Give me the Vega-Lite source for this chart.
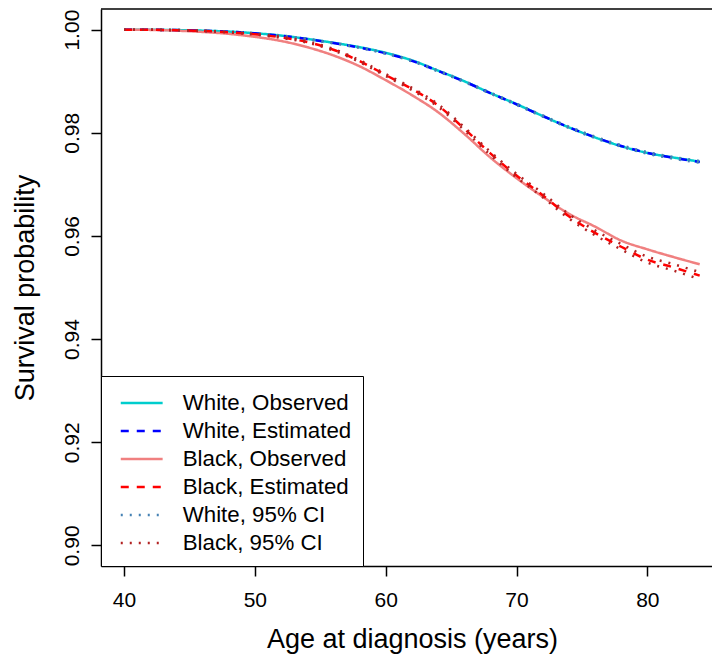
{
  "$schema": "https://vega.github.io/schema/vega-lite/v6.json",
  "width": 611,
  "height": 557,
  "autosize": {"type": "none"},
  "padding": {"left": 101, "top": 9, "right": 0, "bottom": 90},
  "background": "white",
  "config": {
    "view": {"stroke": null},
    "font": "Liberation Sans",
    "axis": {
      "grid": false,
      "domainColor": "black",
      "domainWidth": 1.5,
      "tickColor": "black",
      "tickWidth": 1.5,
      "tickSize": 10,
      "labelColor": "black",
      "labelFontSize": 21,
      "labelFont": "Liberation Sans",
      "titleColor": "black",
      "titleFontSize": 27,
      "titleFontWeight": "normal",
      "titleFont": "Liberation Sans"
    },
    "legend": {
      "orient": "bottom-left",
      "offset": 0,
      "padding": 11,
      "symbolOffset": 13.7,
      "strokeColor": "black",
      "fillColor": "white",
      "symbolType": "M-1.42,0H1.42",
      "symbolSize": 870,
      "symbolStrokeWidth": 2.5,
      "labelFontSize": 22.3,
      "labelFont": "Liberation Sans",
      "labelColor": "black",
      "labelOffset": 25,
      "labelLimit": 400,
      "rowPadding": 0
    }
  },
  "layer": [
    {
      "data": {
        "values": [
          {"age": 40, "surv": 1.00000, "series": "White, Observed", "line": "WO"},
          {"age": 42, "surv": 0.99998, "series": "White, Observed", "line": "WO"},
          {"age": 44, "surv": 0.99992, "series": "White, Observed", "line": "WO"},
          {"age": 46, "surv": 0.99980, "series": "White, Observed", "line": "WO"},
          {"age": 48, "surv": 0.99962, "series": "White, Observed", "line": "WO"},
          {"age": 50, "surv": 0.99930, "series": "White, Observed", "line": "WO"},
          {"age": 52, "surv": 0.99885, "series": "White, Observed", "line": "WO"},
          {"age": 54, "surv": 0.99820, "series": "White, Observed", "line": "WO"},
          {"age": 56, "surv": 0.99745, "series": "White, Observed", "line": "WO"},
          {"age": 58, "surv": 0.99660, "series": "White, Observed", "line": "WO"},
          {"age": 60, "surv": 0.99550, "series": "White, Observed", "line": "WO"},
          {"age": 62, "surv": 0.99405, "series": "White, Observed", "line": "WO"},
          {"age": 64, "surv": 0.99205, "series": "White, Observed", "line": "WO"},
          {"age": 66, "surv": 0.99000, "series": "White, Observed", "line": "WO"},
          {"age": 68, "surv": 0.98770, "series": "White, Observed", "line": "WO"},
          {"age": 70, "surv": 0.98555, "series": "White, Observed", "line": "WO"},
          {"age": 72, "surv": 0.98325, "series": "White, Observed", "line": "WO"},
          {"age": 74, "surv": 0.98105, "series": "White, Observed", "line": "WO"},
          {"age": 76, "surv": 0.97910, "series": "White, Observed", "line": "WO"},
          {"age": 78, "surv": 0.97740, "series": "White, Observed", "line": "WO"},
          {"age": 80, "surv": 0.97610, "series": "White, Observed", "line": "WO"},
          {"age": 82, "surv": 0.97520, "series": "White, Observed", "line": "WO"},
          {"age": 84, "surv": 0.97440, "series": "White, Observed", "line": "WO"},

          {"age": 40, "surv": 1.00000, "series": "Black, Observed", "line": "BO"},
          {"age": 42, "surv": 0.99995, "series": "Black, Observed", "line": "BO"},
          {"age": 44, "surv": 0.99980, "series": "Black, Observed", "line": "BO"},
          {"age": 46, "surv": 0.99955, "series": "Black, Observed", "line": "BO"},
          {"age": 48, "surv": 0.99918, "series": "Black, Observed", "line": "BO"},
          {"age": 50, "surv": 0.99860, "series": "Black, Observed", "line": "BO"},
          {"age": 52, "surv": 0.99780, "series": "Black, Observed", "line": "BO"},
          {"age": 54, "surv": 0.99660, "series": "Black, Observed", "line": "BO"},
          {"age": 56, "surv": 0.99500, "series": "Black, Observed", "line": "BO"},
          {"age": 58, "surv": 0.99290, "series": "Black, Observed", "line": "BO"},
          {"age": 60, "surv": 0.99020, "series": "Black, Observed", "line": "BO"},
          {"age": 62, "surv": 0.98730, "series": "Black, Observed", "line": "BO"},
          {"age": 64, "surv": 0.98400, "series": "Black, Observed", "line": "BO"},
          {"age": 66, "surv": 0.97980, "series": "Black, Observed", "line": "BO"},
          {"age": 68, "surv": 0.97520, "series": "Black, Observed", "line": "BO"},
          {"age": 70, "surv": 0.97120, "series": "Black, Observed", "line": "BO"},
          {"age": 72, "surv": 0.96760, "series": "Black, Observed", "line": "BO"},
          {"age": 74, "surv": 0.96430, "series": "Black, Observed", "line": "BO"},
          {"age": 76, "surv": 0.96180, "series": "Black, Observed", "line": "BO"},
          {"age": 78, "surv": 0.95910, "series": "Black, Observed", "line": "BO"},
          {"age": 80, "surv": 0.95740, "series": "Black, Observed", "line": "BO"},
          {"age": 82, "surv": 0.95590, "series": "Black, Observed", "line": "BO"},
          {"age": 84, "surv": 0.95450, "series": "Black, Observed", "line": "BO"},

          {"age": 40, "surv": 1.00000, "series": "White, Estimated", "line": "WE"},
          {"age": 42, "surv": 0.99998, "series": "White, Estimated", "line": "WE"},
          {"age": 44, "surv": 0.99991, "series": "White, Estimated", "line": "WE"},
          {"age": 46, "surv": 0.99979, "series": "White, Estimated", "line": "WE"},
          {"age": 48, "surv": 0.99960, "series": "White, Estimated", "line": "WE"},
          {"age": 50, "surv": 0.99928, "series": "White, Estimated", "line": "WE"},
          {"age": 52, "surv": 0.99882, "series": "White, Estimated", "line": "WE"},
          {"age": 54, "surv": 0.99817, "series": "White, Estimated", "line": "WE"},
          {"age": 56, "surv": 0.99740, "series": "White, Estimated", "line": "WE"},
          {"age": 58, "surv": 0.99652, "series": "White, Estimated", "line": "WE"},
          {"age": 60, "surv": 0.99540, "series": "White, Estimated", "line": "WE"},
          {"age": 62, "surv": 0.99395, "series": "White, Estimated", "line": "WE"},
          {"age": 64, "surv": 0.99200, "series": "White, Estimated", "line": "WE"},
          {"age": 66, "surv": 0.98995, "series": "White, Estimated", "line": "WE"},
          {"age": 68, "surv": 0.98770, "series": "White, Estimated", "line": "WE"},
          {"age": 70, "surv": 0.98552, "series": "White, Estimated", "line": "WE"},
          {"age": 72, "surv": 0.98325, "series": "White, Estimated", "line": "WE"},
          {"age": 74, "surv": 0.98108, "series": "White, Estimated", "line": "WE"},
          {"age": 76, "surv": 0.97912, "series": "White, Estimated", "line": "WE"},
          {"age": 78, "surv": 0.97745, "series": "White, Estimated", "line": "WE"},
          {"age": 80, "surv": 0.97610, "series": "White, Estimated", "line": "WE"},
          {"age": 82, "surv": 0.97515, "series": "White, Estimated", "line": "WE"},
          {"age": 84, "surv": 0.97435, "series": "White, Estimated", "line": "WE"},

          {"age": 40, "surv": 1.00000, "series": "Black, Estimated", "line": "BE"},
          {"age": 42, "surv": 0.99998, "series": "Black, Estimated", "line": "BE"},
          {"age": 44, "surv": 0.99990, "series": "Black, Estimated", "line": "BE"},
          {"age": 46, "surv": 0.99975, "series": "Black, Estimated", "line": "BE"},
          {"age": 48, "surv": 0.99950, "series": "Black, Estimated", "line": "BE"},
          {"age": 50, "surv": 0.99910, "series": "Black, Estimated", "line": "BE"},
          {"age": 52, "surv": 0.99850, "series": "Black, Estimated", "line": "BE"},
          {"age": 54, "surv": 0.99760, "series": "Black, Estimated", "line": "BE"},
          {"age": 56, "surv": 0.99610, "series": "Black, Estimated", "line": "BE"},
          {"age": 58, "surv": 0.99390, "series": "Black, Estimated", "line": "BE"},
          {"age": 60, "surv": 0.99120, "series": "Black, Estimated", "line": "BE"},
          {"age": 62, "surv": 0.98850, "series": "Black, Estimated", "line": "BE"},
          {"age": 64, "surv": 0.98530, "series": "Black, Estimated", "line": "BE"},
          {"age": 66, "surv": 0.98080, "series": "Black, Estimated", "line": "BE"},
          {"age": 68, "surv": 0.97600, "series": "Black, Estimated", "line": "BE"},
          {"age": 70, "surv": 0.97170, "series": "Black, Estimated", "line": "BE"},
          {"age": 72, "surv": 0.96790, "series": "Black, Estimated", "line": "BE"},
          {"age": 74, "surv": 0.96380, "series": "Black, Estimated", "line": "BE"},
          {"age": 76, "surv": 0.96060, "series": "Black, Estimated", "line": "BE"},
          {"age": 78, "surv": 0.95790, "series": "Black, Estimated", "line": "BE"},
          {"age": 80, "surv": 0.95540, "series": "Black, Estimated", "line": "BE"},
          {"age": 82, "surv": 0.95390, "series": "Black, Estimated", "line": "BE"},
          {"age": 84, "surv": 0.95230, "series": "Black, Estimated", "line": "BE"},

          {"age": 40, "surv": 1.00000, "series": "White, 95% CI", "line": "WU"},
          {"age": 42, "surv": 0.99999, "series": "White, 95% CI", "line": "WU"},
          {"age": 44, "surv": 0.99992, "series": "White, 95% CI", "line": "WU"},
          {"age": 46, "surv": 0.99981, "series": "White, 95% CI", "line": "WU"},
          {"age": 48, "surv": 0.99963, "series": "White, 95% CI", "line": "WU"},
          {"age": 50, "surv": 0.99931, "series": "White, 95% CI", "line": "WU"},
          {"age": 52, "surv": 0.99886, "series": "White, 95% CI", "line": "WU"},
          {"age": 54, "surv": 0.99822, "series": "White, 95% CI", "line": "WU"},
          {"age": 56, "surv": 0.99746, "series": "White, 95% CI", "line": "WU"},
          {"age": 58, "surv": 0.99659, "series": "White, 95% CI", "line": "WU"},
          {"age": 60, "surv": 0.99548, "series": "White, 95% CI", "line": "WU"},
          {"age": 62, "surv": 0.99404, "series": "White, 95% CI", "line": "WU"},
          {"age": 64, "surv": 0.99210, "series": "White, 95% CI", "line": "WU"},
          {"age": 66, "surv": 0.99005, "series": "White, 95% CI", "line": "WU"},
          {"age": 68, "surv": 0.98781, "series": "White, 95% CI", "line": "WU"},
          {"age": 70, "surv": 0.98564, "series": "White, 95% CI", "line": "WU"},
          {"age": 72, "surv": 0.98337, "series": "White, 95% CI", "line": "WU"},
          {"age": 74, "surv": 0.98121, "series": "White, 95% CI", "line": "WU"},
          {"age": 76, "surv": 0.97926, "series": "White, 95% CI", "line": "WU"},
          {"age": 78, "surv": 0.97760, "series": "White, 95% CI", "line": "WU"},
          {"age": 80, "surv": 0.97626, "series": "White, 95% CI", "line": "WU"},
          {"age": 82, "surv": 0.97532, "series": "White, 95% CI", "line": "WU"},
          {"age": 84, "surv": 0.97453, "series": "White, 95% CI", "line": "WU"},

          {"age": 40, "surv": 1.00000, "series": "White, 95% CI", "line": "WL"},
          {"age": 42, "surv": 0.99997, "series": "White, 95% CI", "line": "WL"},
          {"age": 44, "surv": 0.99990, "series": "White, 95% CI", "line": "WL"},
          {"age": 46, "surv": 0.99977, "series": "White, 95% CI", "line": "WL"},
          {"age": 48, "surv": 0.99957, "series": "White, 95% CI", "line": "WL"},
          {"age": 50, "surv": 0.99925, "series": "White, 95% CI", "line": "WL"},
          {"age": 52, "surv": 0.99878, "series": "White, 95% CI", "line": "WL"},
          {"age": 54, "surv": 0.99812, "series": "White, 95% CI", "line": "WL"},
          {"age": 56, "surv": 0.99734, "series": "White, 95% CI", "line": "WL"},
          {"age": 58, "surv": 0.99645, "series": "White, 95% CI", "line": "WL"},
          {"age": 60, "surv": 0.99532, "series": "White, 95% CI", "line": "WL"},
          {"age": 62, "surv": 0.99386, "series": "White, 95% CI", "line": "WL"},
          {"age": 64, "surv": 0.99190, "series": "White, 95% CI", "line": "WL"},
          {"age": 66, "surv": 0.98985, "series": "White, 95% CI", "line": "WL"},
          {"age": 68, "surv": 0.98759, "series": "White, 95% CI", "line": "WL"},
          {"age": 70, "surv": 0.98540, "series": "White, 95% CI", "line": "WL"},
          {"age": 72, "surv": 0.98313, "series": "White, 95% CI", "line": "WL"},
          {"age": 74, "surv": 0.98095, "series": "White, 95% CI", "line": "WL"},
          {"age": 76, "surv": 0.97898, "series": "White, 95% CI", "line": "WL"},
          {"age": 78, "surv": 0.97730, "series": "White, 95% CI", "line": "WL"},
          {"age": 80, "surv": 0.97594, "series": "White, 95% CI", "line": "WL"},
          {"age": 82, "surv": 0.97498, "series": "White, 95% CI", "line": "WL"},
          {"age": 84, "surv": 0.97417, "series": "White, 95% CI", "line": "WL"},

          {"age": 40, "surv": 1.00000, "series": "Black, 95% CI", "line": "BU"},
          {"age": 42, "surv": 0.99999, "series": "Black, 95% CI", "line": "BU"},
          {"age": 44, "surv": 0.99992, "series": "Black, 95% CI", "line": "BU"},
          {"age": 46, "surv": 0.99978, "series": "Black, 95% CI", "line": "BU"},
          {"age": 48, "surv": 0.99955, "series": "Black, 95% CI", "line": "BU"},
          {"age": 50, "surv": 0.99917, "series": "Black, 95% CI", "line": "BU"},
          {"age": 52, "surv": 0.99860, "series": "Black, 95% CI", "line": "BU"},
          {"age": 54, "surv": 0.99772, "series": "Black, 95% CI", "line": "BU"},
          {"age": 56, "surv": 0.99625, "series": "Black, 95% CI", "line": "BU"},
          {"age": 58, "surv": 0.99408, "series": "Black, 95% CI", "line": "BU"},
          {"age": 60, "surv": 0.99140, "series": "Black, 95% CI", "line": "BU"},
          {"age": 62, "surv": 0.98872, "series": "Black, 95% CI", "line": "BU"},
          {"age": 64, "surv": 0.98555, "series": "Black, 95% CI", "line": "BU"},
          {"age": 66, "surv": 0.98108, "series": "Black, 95% CI", "line": "BU"},
          {"age": 68, "surv": 0.97630, "series": "Black, 95% CI", "line": "BU"},
          {"age": 70, "surv": 0.97204, "series": "Black, 95% CI", "line": "BU"},
          {"age": 72, "surv": 0.96828, "series": "Black, 95% CI", "line": "BU"},
          {"age": 74, "surv": 0.96422, "series": "Black, 95% CI", "line": "BU"},
          {"age": 76, "surv": 0.96107, "series": "Black, 95% CI", "line": "BU"},
          {"age": 78, "surv": 0.95842, "series": "Black, 95% CI", "line": "BU"},
          {"age": 80, "surv": 0.95597, "series": "Black, 95% CI", "line": "BU"},
          {"age": 82, "surv": 0.95452, "series": "Black, 95% CI", "line": "BU"},
          {"age": 84, "surv": 0.95298, "series": "Black, 95% CI", "line": "BU"},

          {"age": 40, "surv": 1.00000, "series": "Black, 95% CI", "line": "BL"},
          {"age": 42, "surv": 0.99997, "series": "Black, 95% CI", "line": "BL"},
          {"age": 44, "surv": 0.99988, "series": "Black, 95% CI", "line": "BL"},
          {"age": 46, "surv": 0.99972, "series": "Black, 95% CI", "line": "BL"},
          {"age": 48, "surv": 0.99945, "series": "Black, 95% CI", "line": "BL"},
          {"age": 50, "surv": 0.99903, "series": "Black, 95% CI", "line": "BL"},
          {"age": 52, "surv": 0.99840, "series": "Black, 95% CI", "line": "BL"},
          {"age": 54, "surv": 0.99748, "series": "Black, 95% CI", "line": "BL"},
          {"age": 56, "surv": 0.99595, "series": "Black, 95% CI", "line": "BL"},
          {"age": 58, "surv": 0.99372, "series": "Black, 95% CI", "line": "BL"},
          {"age": 60, "surv": 0.99100, "series": "Black, 95% CI", "line": "BL"},
          {"age": 62, "surv": 0.98828, "series": "Black, 95% CI", "line": "BL"},
          {"age": 64, "surv": 0.98505, "series": "Black, 95% CI", "line": "BL"},
          {"age": 66, "surv": 0.98052, "series": "Black, 95% CI", "line": "BL"},
          {"age": 68, "surv": 0.97570, "series": "Black, 95% CI", "line": "BL"},
          {"age": 70, "surv": 0.97136, "series": "Black, 95% CI", "line": "BL"},
          {"age": 72, "surv": 0.96752, "series": "Black, 95% CI", "line": "BL"},
          {"age": 74, "surv": 0.96338, "series": "Black, 95% CI", "line": "BL"},
          {"age": 76, "surv": 0.96013, "series": "Black, 95% CI", "line": "BL"},
          {"age": 78, "surv": 0.95738, "series": "Black, 95% CI", "line": "BL"},
          {"age": 80, "surv": 0.95483, "series": "Black, 95% CI", "line": "BL"},
          {"age": 82, "surv": 0.95328, "series": "Black, 95% CI", "line": "BL"},
          {"age": 84, "surv": 0.95162, "series": "Black, 95% CI", "line": "BL"}
        ]
      },
      "mark": {"type": "line", "strokeWidth": 2.5, "interpolate": "monotone"},
      "encoding": {
        "x": {
          "field": "age",
          "type": "quantitative",
          "scale": {"domain": [38.24, 84.94], "nice": false, "zero": false},
          "axis": {
            "values": [40, 50, 60, 70, 80],
            "title": "Age at diagnosis (years)",
            "titleX": 311,
            "labelPadding": 13,
            "titlePadding": 16
          }
        },
        "y": {
          "field": "surv",
          "type": "quantitative",
          "scale": {"domain": [0.896, 1.004], "nice": false, "zero": false},
          "axis": {
            "values": [0.9, 0.92, 0.94, 0.96, 0.98, 1.0],
            "format": ".2f",
            "labelAngle": 270,
            "labelAlign": "center",
            "labelBaseline": "alphabetic",
            "labelPadding": 13,
            "title": "Survival probability",
            "titlePadding": 22
          }
        },
        "detail": {"field": "line"},
        "color": {
          "field": "series",
          "type": "nominal",
          "scale": {
            "domain": ["White, Observed", "White, Estimated", "Black, Observed", "Black, Estimated", "White, 95% CI", "Black, 95% CI"],
            "range": ["#00CDCD", "#0000FF", "#F08080", "#FF0000", "#4682B4", "#B22222"]
          },
          "legend": {"title": null}
        },
        "strokeDash": {
          "field": "series",
          "type": "nominal",
          "scale": {
            "domain": ["White, Observed", "White, Estimated", "Black, Observed", "Black, Estimated", "White, 95% CI", "Black, 95% CI"],
            "range": [[1, 0], [8, 8], [1, 0], [8, 8], [2, 7], [2, 7]]
          },
          "legend": {"title": null}
        }
      }
    },
    {
      "data": {"values": [{"top": 1.004}]},
      "mark": {"type": "rule", "color": "black", "strokeWidth": 1.5},
      "encoding": {"y": {"field": "top", "type": "quantitative"}}
    }
  ]
}
